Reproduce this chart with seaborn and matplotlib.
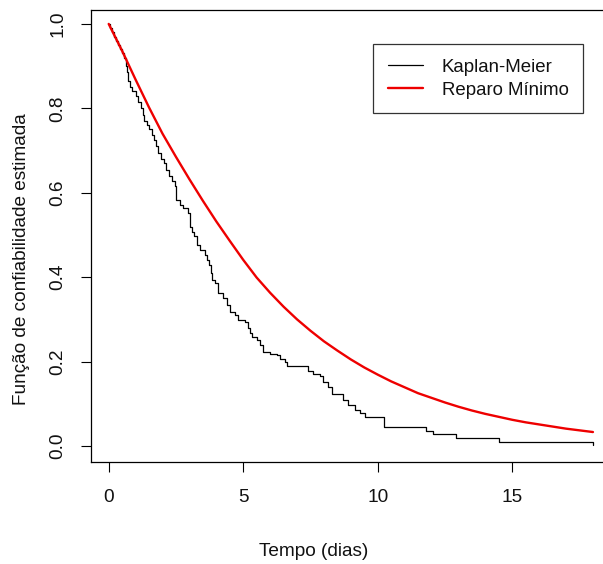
import matplotlib
matplotlib.use("Agg")
import matplotlib.pyplot as plt
import seaborn as sns
import pandas as pd

# Kaplan-Meier estimate: event times (dias) and survival after each step
km_tempo = [0.00, 0.05, 0.12, 0.20, 0.27, 0.35, 0.42, 0.50, 0.58, 0.65,
            0.69, 0.73, 0.80, 0.88, 1.02, 1.10, 1.20, 1.27, 1.33, 1.41,
            1.50, 1.60, 1.68, 1.76, 1.85, 1.94, 2.04, 2.14, 2.25, 2.35,
            2.46, 2.52, 2.65, 2.77, 2.96, 3.02, 3.10, 3.16, 3.27, 3.39,
            3.58, 3.66, 3.72, 3.79, 3.85, 3.95, 4.07, 4.26, 4.39, 4.51,
            4.70, 4.82, 5.07, 5.19, 5.26, 5.32, 5.50, 5.62, 5.75, 6.00,
            6.25, 6.37, 6.55, 6.62, 7.42, 7.61, 7.86, 7.98, 8.16, 8.29,
            8.72, 8.91, 9.16, 9.35, 9.53, 10.25, 11.78, 12.05, 12.90, 14.50,
            18.01]
km_sobrev = [1.000, 0.990, 0.980, 0.970, 0.960, 0.950, 0.940, 0.930, 0.920, 0.900,
             0.885, 0.865, 0.850, 0.840, 0.830, 0.815, 0.800, 0.785, 0.770, 0.760,
             0.750, 0.738, 0.725, 0.710, 0.695, 0.680, 0.670, 0.655, 0.640, 0.627,
             0.615, 0.583, 0.571, 0.565, 0.551, 0.520, 0.508, 0.497, 0.476, 0.464,
             0.453, 0.440, 0.428, 0.410, 0.393, 0.385, 0.362, 0.350, 0.334, 0.318,
             0.310, 0.299, 0.293, 0.279, 0.268, 0.259, 0.251, 0.239, 0.223, 0.219,
             0.215, 0.207, 0.198, 0.190, 0.177, 0.171, 0.166, 0.152, 0.140, 0.123,
             0.109, 0.097, 0.085, 0.077, 0.068, 0.045, 0.036, 0.028, 0.018, 0.010,
             0.003]

# Minimal-repair (power-law process) reliability curve
rm_tempo = [0.0, 0.5, 1.0, 1.5, 2.0, 2.5, 3.0, 3.5, 4.0, 4.5,
            5.0, 5.5, 6.0, 6.5, 7.0, 7.5, 8.0, 8.5, 9.0, 9.5,
            10.0, 10.5, 11.0, 11.5, 12.0, 12.5, 13.0, 13.5, 14.0, 14.5,
            15.0, 15.5, 16.0, 16.5, 17.0, 17.5, 18.0]
rm_confiab = [1.000, 0.936, 0.868, 0.802, 0.740, 0.685, 0.632, 0.581, 0.532, 0.486,
              0.441, 0.399, 0.363, 0.330, 0.300, 0.273, 0.248, 0.226, 0.205, 0.186,
              0.169, 0.153, 0.139, 0.125, 0.114, 0.103, 0.093, 0.084, 0.076, 0.069,
              0.062, 0.056, 0.051, 0.046, 0.041, 0.037, 0.033]

x_ticks = [0, 5, 10, 15]
y_ticks = [0.0, 0.2, 0.4, 0.6, 0.8, 1.0]
y_tick_labels = ["0.0", "0.2", "0.4", "0.6", "0.8", "1.0"]

sns.set_style("ticks")
plt.rcParams["font.family"] = ["Liberation Sans", "DejaVu Sans"]
FS = 13.7
TXT = "#111111"

km = pd.DataFrame({"tempo": km_tempo, "s": km_sobrev})
rm = pd.DataFrame({"tempo": rm_tempo, "s": rm_confiab})

W, H = 603, 564
fig = plt.figure(figsize=(W / 100, H / 100), dpi=100)
left, right_px, top, bottom = 91, 606.4, 10, 462
ax = fig.add_axes([left / W, 1 - bottom / H, (right_px - left) / W, (bottom - top) / H])

sns.lineplot(data=km, x="tempo", y="s", ax=ax, color="black", linewidth=0.9,
             drawstyle="steps-post", estimator=None, sort=False, label="Kaplan-Meier")
sns.lineplot(data=rm, x="tempo", y="s", ax=ax, color="#ee0000", linewidth=1.7,
             estimator=None, sort=False, label="Reparo Mínimo")

ax.set_xlim(-0.658, 18.5)
ax.set_ylim(-0.038, 1.033)
ax.set_xticks(x_ticks)
ax.set_xticklabels([str(v) for v in x_ticks])
ax.set_yticks(y_ticks)
ax.set_yticklabels(y_tick_labels, rotation=90, va="center")

for sp in ax.spines.values():
    sp.set_color("black")
    sp.set_linewidth(0.9)
ax.tick_params(axis="both", direction="out", length=7.5, width=0.8,
               color="black", labelsize=FS, labelcolor=TXT)
ax.tick_params(axis="x", pad=12)
ax.tick_params(axis="y", pad=10)

ax.set_xlabel("Tempo (dias)", fontsize=FS, color=TXT)
ax.set_ylabel("Função de confiabilidade estimada", fontsize=FS, color=TXT)
ax.xaxis.label.set_va("center")
ax.xaxis.set_label_coords((314 - left) / (right_px - left), -(551 - bottom) / (bottom - top))
ax.yaxis.label.set_va("center")
ax.yaxis.label.set_ha("center")
ax.yaxis.set_label_coords(-(left - 22) / (right_px - left), (bottom - 259) / (bottom - top))

leg = ax.legend(loc="upper right", bbox_to_anchor=(583 / W, 1 - 44 / H),
                bbox_transform=fig.transFigure, fontsize=13.4, frameon=True,
                fancybox=False, borderpad=0.78, handlelength=1.9,
                handletextpad=1.0, labelspacing=0.34, borderaxespad=0)
leg.get_frame().set_edgecolor("black")
leg.get_frame().set_linewidth(0.9)
for t in leg.get_texts():
    t.set_color(TXT)

fig.savefig("out.png", dpi=100, facecolor="white")
